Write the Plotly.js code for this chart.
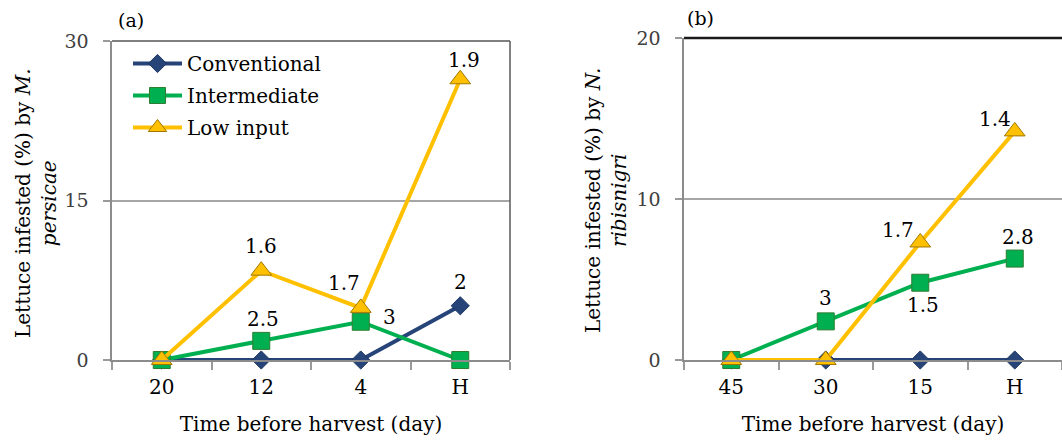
<!DOCTYPE html>
<html>
<head>
<meta charset="utf-8">
<script src="https://cdn.plot.ly/plotly-3.0.1.min.js"></script>
<style>html,body{margin:0;padding:0;background:#fff}#chart{width:1062px;height:441px}</style>
</head>
<body>
<div id="chart"></div>
<script>
// ---- data ----
const seriesNames = ["Conventional", "Intermediate", "Low input"];

const catsA = ["20", "12", "4", "H"];
const convA = [0, 0, 0, 5.1];
const interA = [0, 1.8, 3.6, 0];
const lowA = [0, 8.4, 4.9, 26.4];
const convLabA = ["", "", "", "2"];
const interLabA = ["", "2.5", "3", ""];
const lowLabA = ["", "1.6", "1.7", "1.9"];

const catsB = ["45", "30", "15", "H"];
const convB = [0, 0, 0, 0];
const interB = [0, 2.4, 4.8, 6.3];
const lowB = [0, 0, 7.3, 14.2];
const convLabB = ["", "", "", ""];
const interLabB = ["", "3", "1.5", "2.8"];
const lowLabB = ["", "", "1.7", "1.4"];

const yTicksA = [0, 15, 30];
const yTicksB = [0, 10, 20];

// ---- styles ----
const FONT = "DejaVu Serif";
const FS = 20;
const W = 1062, H = 441;
const styles = [
  {color: "#264478", symbol: "diamond", size: 14, outline: "#1d3561"},
  {color: "#00B050", symbol: "square", size: 17, outline: "#2e7d32"},
  {color: "#FFC000", symbol: "triangle-up", size: 18, outline: "#a07800"}
];
const offA = [
  [null, null, null, [0, 24]],
  [null, [2, 22], [29, 5], null],
  [null, [0, 25], [-17, 25], [4, 19]]
];
const offB = [
  [null, null, null, null],
  [null, [0, 23], [3, -22], [3, 22]],
  [null, null, [-22, 12], [-20, 12]]
];

function mkTrace(x, y, i, xa, ya, showLeg) {
  const s = styles[i];
  return {
    type: "scatter", mode: "lines+markers", name: seriesNames[i],
    legendgroup: "g" + i,
    x: x, y: y, xaxis: xa, yaxis: ya, showlegend: showLeg,
    line: {color: s.color, width: 4},
    marker: {symbol: s.symbol, size: s.size, color: s.color, line: {color: s.outline, width: 1}},
    cliponaxis: false, hoverinfo: "skip"
  };
}

const data = [
  mkTrace(catsA, convA, 0, "x", "y", true),
  mkTrace(catsA, interA, 1, "x", "y", true),
  mkTrace(catsA, lowA, 2, "x", "y", true),
  mkTrace(catsB, convB, 0, "x2", "y2", false),
  mkTrace(catsB, interB, 1, "x2", "y2", false),
  mkTrace(catsB, lowB, 2, "x2", "y2", false)
];

const annotations = [];
function addLabels(cats, vals, labs, offs, xr, yr) {
  labs.forEach((t, k) => {
    if (!t) return;
    const o = offs[k] || [0, 0];
    annotations.push({
      x: cats.indexOf(cats[k]), y: vals[k], xref: xr, yref: yr, text: t, showarrow: false,
      xanchor: "center", yanchor: "middle",
      xshift: o[0], yshift: o[1], font: {family: FONT, size: FS, color: "#000"}
    });
  });
}
addLabels(catsA, convA, convLabA, offA[0], "x", "y");
addLabels(catsA, interA, interLabA, offA[1], "x", "y");
addLabels(catsA, lowA, lowLabA, offA[2], "x", "y");
addLabels(catsB, convB, convLabB, offB[0], "x2", "y2");
addLabels(catsB, interB, interLabB, offB[1], "x2", "y2");
addLabels(catsB, lowB, lowLabB, offB[2], "x2", "y2");

annotations.push({
  xref: "paper", yref: "paper", x: 36 / W, y: 1 - 203 / H, showarrow: false, textangle: -90,
  xanchor: "center", yanchor: "middle",
  text: "Lettuce infested (%) by <i>M.</i><br><i>persicae</i>",
  font: {family: FONT, size: FS, color: "#000"}, align: "center"
});
annotations.push({
  xref: "paper", yref: "paper", x: 606 / W, y: 1 - 201 / H, showarrow: false, textangle: -90,
  xanchor: "center", yanchor: "middle",
  text: "Lettuce infested (%) by <i>N.</i><br><i>ribisnigri</i>",
  font: {family: FONT, size: FS, color: "#000"}, align: "center"
});
annotations.push({
  xref: "paper", yref: "paper", x: 131 / W, y: 1 - 20 / H, showarrow: false,
  xanchor: "center", yanchor: "middle",
  text: "(a)", font: {family: FONT, size: 19, color: "#000"}
});
annotations.push({
  xref: "paper", yref: "paper", x: 700 / W, y: 1 - 18 / H, showarrow: false,
  xanchor: "center", yanchor: "middle",
  text: "(b)", font: {family: FONT, size: 19, color: "#000"}
});

function xAxis(domain, anchor) {
  return {
    domain: domain, anchor: anchor, type: "category", range: [-0.5, 3.5],
    showline: true, linecolor: "#8c8c8c", linewidth: 2,
    ticks: "outside", tickson: "boundaries", ticklen: 8, tickwidth: 2, tickcolor: "#9a9a9a",
    showgrid: false, zeroline: false, ticklabelstandoff: 8,
    tickfont: {family: FONT, size: FS, color: "#000"},
    title: {text: "Time before harvest (day)", font: {family: FONT, size: FS, color: "#000"}, standoff: 19},
    fixedrange: true
  };
}
function yAxis(domain, anchor, range, tv) {
  return {
    domain: domain, anchor: anchor, range: range, tickvals: tv,
    showline: true, linecolor: "#8c8c8c", linewidth: 2.5,
    ticks: "outside", ticklen: 7, tickwidth: 2, tickcolor: "#9a9a9a",
    showgrid: true, gridcolor: "#a6a6a6", gridwidth: 2, zeroline: false,
    ticklabelstandoff: 10,
    tickfont: {family: FONT, size: 19, color: "#404040"},
    fixedrange: true
  };
}

const layout = {
  width: W, height: H, autosize: false,
  margin: {l: 0, r: 0, t: 0, b: 0, pad: 0},
  paper_bgcolor: "#fff", plot_bgcolor: "#fff",
  font: {family: FONT, size: FS, color: "#000"},
  xaxis: xAxis([112 / W, 510 / W], "y"),
  yaxis: yAxis([1 - 360 / H, 1 - 41 / H], "x", [0, 30], yTicksA),
  xaxis2: xAxis([684 / W, 1], "y2"),
  yaxis2: yAxis([1 - 360 / H, 1 - 38 / H], "x2", [0, 20], yTicksB),
  showlegend: true,
  legend: {
    x: 128 / W, y: 1 - 44 / H, xanchor: "left", yanchor: "top",
    bgcolor: "rgba(0,0,0,0)", borderwidth: 0, itemwidth: 49,
    font: {family: FONT, size: FS, color: "#000"}, tracegroupgap: 3
  },
  shapes: [
    {type: "line", xref: "x domain", yref: "y domain", x0: 0, x1: 1, y0: 1, y1: 1, line: {color: "#7f7f7f", width: 2}},
    {type: "line", xref: "x domain", yref: "y domain", x0: 1, x1: 1, y0: 0, y1: 1, line: {color: "#595959", width: 1.5}},
    {type: "line", xref: "x2 domain", yref: "y2 domain", x0: 0, x1: 1, y0: 1, y1: 1, line: {color: "#1a1a1a", width: 2.5}}
  ],
  annotations: annotations
};

Plotly.newPlot("chart", data, layout, {displayModeBar: false, staticPlot: true});
</script>
</body>
</html>
